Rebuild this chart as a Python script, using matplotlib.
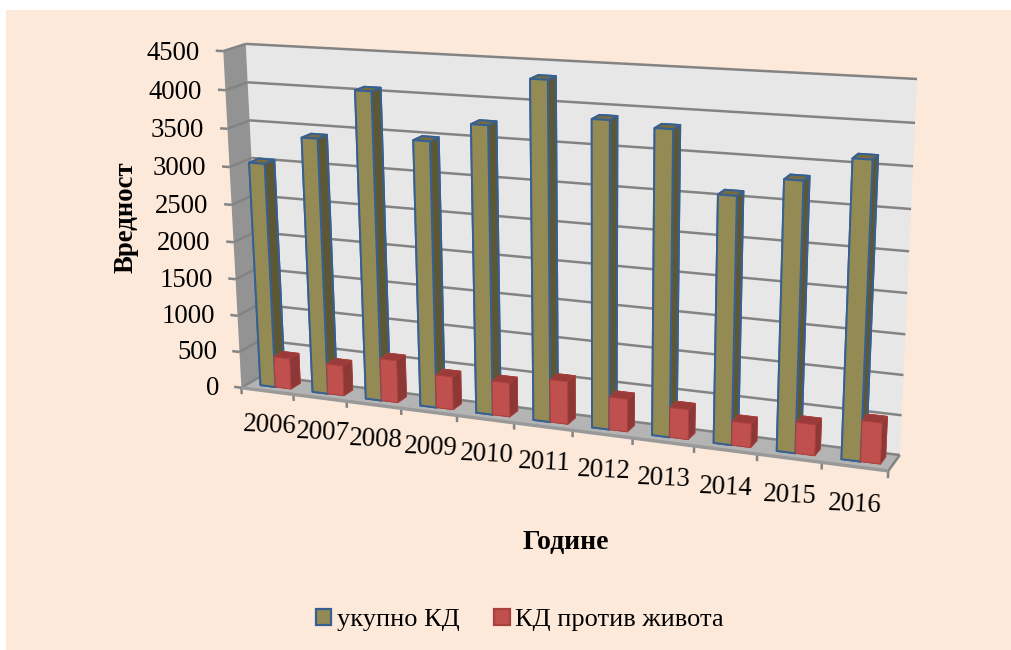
import numpy as np
import matplotlib
matplotlib.use("Agg")
import matplotlib.pyplot as plt
from matplotlib.patches import Patch, Rectangle
from mpl_toolkits.mplot3d import art3d, proj3d

years = ["2006", "2007", "2008", "2009", "2010", "2011", "2012", "2013", "2014", "2015", "2016"]
total_kd = [3030, 3410, 4060, 3480, 3730, 4330, 3890, 3830, 3090, 3330, 3630]
life_kd = [420, 410, 570, 440, 450, 560, 425, 385, 305, 390, 510]
value_ticks = [0, 500, 1000, 1500, 2000, 2500, 3000, 3500, 4000, 4500]
series_names = ["укупно КД", "КД против живота"]
y_title = "Вредност"
x_title = "Године"

plt.rcParams['font.family'] = ['Liberation Serif', 'DejaVu Serif']
W, H = 1011, 650
fig = plt.figure(figsize=(W / 100, H / 100), dpi=100, facecolor="white")
fig.patches.append(Rectangle((6 / W, 0), 1 - 6 / W, 1 - 10 / H, transform=fig.transFigure,
                             facecolor="#FDE9D9", edgecolor="none", zorder=-5))

ax = fig.add_axes([0, 0, 1, 1], projection="3d", computed_zorder=False)
ax.apply_aspect = lambda position=None, **k: None
ax.set_position([0, 0, 1, 1])
ax.set_xlim(0, len(years)); ax.set_ylim(0, 1); ax.set_zlim(0, value_ticks[-1])
ax.set_axis_off()
ax.patch.set_alpha(0)

# camera calibrated to the reference's perspective
calib = [((0, 1, 4500), (246, 44)), ((11, 1, 4500), (917, 79)), ((0, 0, 4500), (223, 51)),
         ((0, 0, 0), (242, 387)), ((0, 1, 0), (262, 376)), ((11, 1, 0), (900, 454)),
         ((11, 0, 0), (888, 470)), ((1, 0, 0), (293, 394)), ((2, 0, 0), (347, 402)),
         ((3, 0, 0), (401, 408)), ((4, 0, 0), (457, 415)), ((9, 0, 0), (757, 456)),
         ((10, 0, 0), (822, 463))]
A, b = [], []
for (x, y, z), (px, py) in calib:
    X = [x, y, z / 1000, 1]
    py = H - py
    A.append(X + [0, 0, 0, 0] + [-px * v for v in X[:3]]); b.append(px)
    A.append([0, 0, 0, 0] + X + [-py * v for v in X[:3]]); b.append(py)
s = np.linalg.lstsq(np.array(A, float), np.array(b, float), rcond=None)[0]
P = np.array([s[:4], s[4:8], [s[8], s[9], s[10], 1.0]])
P[:, 2] /= 1000


def get_proj():
    (x0, x1), (y0, y1) = ax.viewLim.intervalx, ax.viewLim.intervaly
    toview = np.array([[(x1 - x0) / W, 0, x0], [0, (y1 - y0) / H, y0], [0, 0, 1]])
    Q = toview @ P
    depth = np.array([-0.02, 1.0, -1e-4, 0.0])
    return np.array([Q[0], Q[1], depth, Q[2]])


ax.get_proj = get_proj
n = len(years)
top = value_ticks[-1]


def label3d(x, y, z, text, **kw):
    u, v, _ = proj3d.proj_transform(x, y, z, get_proj())
    ax.text2D(u, v, text, transform=ax.transData, color="black", zorder=50, **kw)


# walls
ax.add_collection3d(art3d.Poly3DCollection(
    [[(0, 1, 0), (n, 1, 0), (n, 1, top), (0, 1, top)]], facecolors="#E7E7E7", edgecolors="none", zorder=0.2))
ax.add_collection3d(art3d.Poly3DCollection(
    [[(0, 0, 0), (0, 1, 0), (0, 1, top), (0, 0, top)]], facecolors="#939393", edgecolors="none", zorder=0.2))
ax.add_collection3d(art3d.Poly3DCollection(
    [[(0, 0, 0), (n, 0, 0), (n, 1, 0), (0, 1, 0)]], facecolors="#B4B4B4", edgecolors="none", zorder=0.2))

GRID = "#838383"
segs = []
for v in value_ticks:
    segs.append([(0, 1, v), (n, 1, v)])
    segs.append([(0, 0, v), (0, 1, v)])
    segs.append([(-0.14, 0, v), (0, 0, v)])
    label3d(-0.44, 0, v - 45, str(v), ha="right", va="center", fontsize=19.3)
segs.append([(n, 0, 0), (n, 1, 0)])
for i in range(n + 1):
    segs.append([(i, 0, 0), (i, 0, -90)])
ax.add_collection3d(art3d.Line3DCollection(segs, colors=GRID, linewidths=1.8, zorder=5))
ax.add_collection3d(art3d.Line3DCollection([[(0, 0, 0), (n, 0, 0)]], colors="#999999", linewidths=2.4, zorder=5))
for i, lab in enumerate(years):
    label3d(i + 0.52, 0, -480, lab, ha="center", va="center", rotation=-2.5, fontsize=19.3)

OL = ["#5E5733", "#756C42", "#948A54", "#5E5733", "#5E5733", "#5E5733"]
RD = ["#8C3836", "#9B3B39", "#C0504D", "#8C3836", "#8C3836", "#8C3836"]
bar_y, dy = 0.33, 0.45
x_ol, x_mid, x_rd = 0.235, 0.525, 0.825
zo = 10
for i in range(n):
    ax.bar3d(i + x_ol, bar_y, 0, x_mid - x_ol, dy, total_kd[i], color=OL, shade=False,
             edgecolor="#376092", linewidth=1.4, zorder=zo)
    ax.bar3d(i + x_mid, bar_y, 0, x_rd - x_mid, dy, life_kd[i], color=RD, shade=False,
             edgecolor="#A8403D", linewidth=0.6, zorder=zo + 1)
    zo += 2

fig.text(126 / W, 1 - 217 / H, y_title, rotation=90, ha="center", va="center", fontsize=19.3,
         fontweight="bold")
fig.text(566 / W, 1 - 542 / H, x_title, ha="center", va="center", fontsize=20, fontweight="bold")

handles = [Patch(facecolor="#948A54", edgecolor="#376092", linewidth=1.6),
           Patch(facecolor="#C0504D", edgecolor="#A8403D", linewidth=1.6)]
fig.legend(handles, series_names, loc="center", bbox_to_anchor=(519.5 / W, 1 - 620 / H), ncol=2, frameon=False,
           fontsize=19, handlelength=0.6, handleheight=0.6, handletextpad=0.2, columnspacing=1.3)

fig.savefig("out.png", dpi=100, facecolor=fig.get_facecolor())
